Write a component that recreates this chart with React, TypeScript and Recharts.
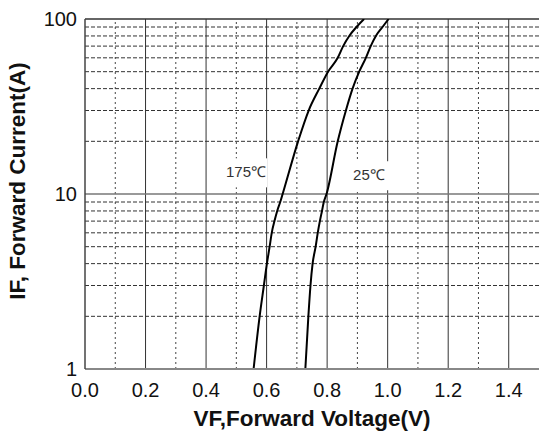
import React from "react";
import { LineChart, Line, XAxis, YAxis, ReferenceLine, ReferenceDot } from "recharts";

const xTicks = [0, 0.2, 0.4, 0.6, 0.8, 1.0, 1.2, 1.4];
const xMinor = [0.1, 0.3, 0.5, 0.7, 0.9, 1.1, 1.3];
const yTicks = [1, 10, 100];
const yMinor = [2, 3, 4, 5, 6, 7, 8, 9, 20, 30, 40, 50, 60, 70, 80, 90];

const vf175 = [0.557, 0.577, 0.591, 0.601, 0.61, 0.617, 0.626, 0.635, 0.645, 0.653, 0.704, 0.739, 0.774, 0.803, 0.835, 0.853, 0.873, 0.897, 0.922];
const if175 = [1, 2, 3, 4, 5, 6, 7, 8, 9, 10, 20, 30, 40, 50, 60, 70, 80, 90, 100];
const vf25 = [0.728, 0.738, 0.745, 0.752, 0.762, 0.769, 0.776, 0.783, 0.789, 0.798, 0.835, 0.862, 0.884, 0.906, 0.928, 0.944, 0.961, 0.983, 1.003];
const if25 = [1, 2, 3, 4, 5, 6, 7, 8, 9, 10, 20, 30, 40, 50, 60, 70, 80, 90, 100];

const labels = [
  { text: "175℃", v: 0.532, i: 13.3 },
  { text: "25℃", v: 0.938, i: 12.8 },
];

const d175 = vf175.map((v, k) => ({ v, i: if175[k] }));
const d25 = vf25.map((v, k) => ({ v, i: if25[k] }));

const FONT = "'Liberation Sans', Arial, sans-serif";

const LabelBox = (props: any) => {
  const { cx, cy, text } = props;
  return (
    <g>
      <rect x={cx - 21} y={cy - 14} width={42} height={29} fill="#fff" />
      <text x={cx} y={cy + 5} textAnchor="middle" fontSize={15} fontFamily={FONT} fill="#333">
        {text}
      </text>
    </g>
  );
};

export default function App() {
  return (
    <div style={{ position: "absolute", left: 0, top: 0, width: 539, height: 431, overflow: "hidden", background: "#fff" }}>
      <LineChart width={539} height={431} margin={{ top: 19, right: 0, bottom: 32, left: 25 }}>
        <XAxis
          type="number"
          dataKey="v"
          domain={[0, 1.5]}
          ticks={xTicks}
          allowDataOverflow
          tickFormatter={(t: number) => t.toFixed(1)}
          height={30}
          tickLine={false}
          tickSize={6}
          tickMargin={8}
          axisLine={{ stroke: "#888", strokeWidth: 2 }}
          tick={{ fontSize: 20, fill: "#111", fontFamily: FONT }}
          label={{
            content: (p: any) => {
              const vb = p.viewBox;
              return (
                <text x={vb.x + vb.width / 2} y={vb.y + 57} textAnchor="middle" fontSize={22.5} fontWeight="bold" fontFamily={FONT} fill="#111">
                  VF,Forward Voltage(V)
                </text>
              );
            },
          }}
        />
        <YAxis
          type="number"
          dataKey="i"
          scale="log"
          domain={[1, 100]}
          ticks={yTicks}
          allowDataOverflow
          width={60}
          tickLine={false}
          tickSize={6}
          tickMargin={2}
          axisLine={{ stroke: "#444", strokeWidth: 1.5 }}
          tick={{ fontSize: 20, fill: "#111", fontFamily: FONT }}
          label={{
            content: () => (
              <text x={25} y={181} transform="rotate(-90, 25, 181)" textAnchor="middle" fontSize={22.5} fontWeight="bold" fontFamily={FONT} fill="#111">
                IF, Forward Current(A)
              </text>
            ),
          }}
        />
        {yMinor.map((y) => (
          <ReferenceLine key={"ym" + y} y={y} stroke="#333" strokeDasharray="4 2" strokeWidth={1} />
        ))}
        {xMinor.map((x) => (
          <ReferenceLine key={"xm" + x} x={x} stroke="#444" strokeDasharray="2 3" strokeWidth={1} />
        ))}
        {xTicks.filter((x) => x > 0).map((x) => (
          <ReferenceLine key={"xM" + x} x={x} stroke="#333" strokeWidth={1} />
        ))}
        <ReferenceLine y={10} stroke="#777" strokeWidth={1.5} />
        <ReferenceLine y={100} stroke="#333" strokeWidth={1.5} />
        <Line data={d175} dataKey="i" type="monotone" stroke="#000" strokeWidth={2} dot={false} isAnimationActive={false} />
        <Line data={d25} dataKey="i" type="monotone" stroke="#000" strokeWidth={2} dot={false} isAnimationActive={false} />
        {labels.map((l) => (
          <ReferenceDot key={l.text} x={l.v} y={l.i} r={0} shape={(p: any) => <LabelBox {...p} text={l.text} />} />
        ))}
      </LineChart>
    </div>
  );
}
